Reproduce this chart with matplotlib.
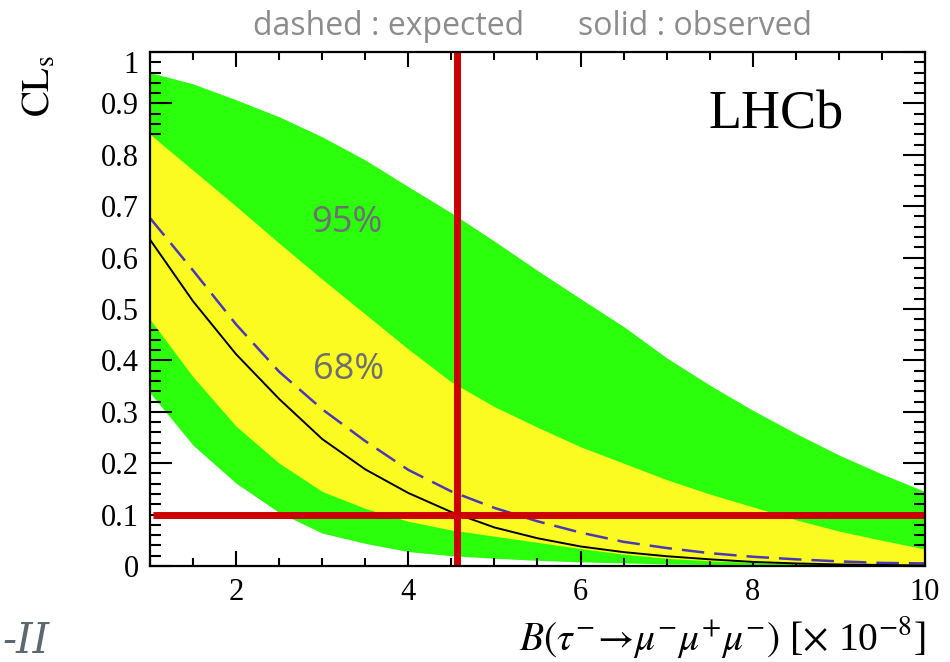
import numpy as np
import matplotlib
matplotlib.use("Agg")
import matplotlib.pyplot as plt
from matplotlib.ticker import MultipleLocator, FuncFormatter
from matplotlib.transforms import ScaledTranslation

plt.rcParams["font.family"] = ["Liberation Serif", "DejaVu Serif"]
plt.rcParams["mathtext.fontset"] = "stix"

# CLs scan (x in units of 1e-8)
bf = [1.0, 1.5, 2.0, 2.5, 3.0, 3.5, 4.0, 4.5, 5.0, 5.5,
      6.0, 6.5, 7.0, 7.5, 8.0, 8.5, 9.0, 9.5, 10.0]
green_hi = [0.960, 0.938, 0.907, 0.874, 0.835, 0.790, 0.738, 0.687, 0.632, 0.575,
            0.520, 0.466, 0.405, 0.352, 0.303, 0.258, 0.216, 0.179, 0.145]
yellow_hi = [0.840, 0.770, 0.700, 0.628, 0.558, 0.490, 0.422, 0.358, 0.310, 0.270,
             0.232, 0.200, 0.168, 0.140, 0.115, 0.090, 0.068, 0.050, 0.033]
yellow_lo = [0.480, 0.368, 0.272, 0.200, 0.145, 0.112, 0.087, 0.070, 0.058, 0.046,
             0.034, 0.023, 0.015, 0.010, 0.007, 0.005, 0.004, 0.003, 0.002]
green_lo = [0.337, 0.235, 0.161, 0.104, 0.064, 0.044, 0.028, 0.020, 0.015, 0.011,
            0.008, 0.006, 0.004, 0.003, 0.002, 0.001, 0.001, 0.000, 0.000]
observed = [0.635, 0.515, 0.412, 0.325, 0.247, 0.188, 0.142, 0.105, 0.075, 0.054,
            0.038, 0.027, 0.019, 0.013, 0.008, 0.005, 0.003, 0.002, 0.001]
expected = [0.677, 0.575, 0.470, 0.378, 0.305, 0.243, 0.187, 0.145, 0.113, 0.087,
            0.065, 0.047, 0.035, 0.025, 0.018, 0.013, 0.009, 0.006, 0.005]

limit_x = 4.56   # observed limit
cl_level = 0.10

fig = plt.figure(figsize=(9.5, 6.62), dpi=100)
ax = fig.add_axes([150/950, 1-566/662, 775/950, 514/662])

ax.fill_between(bf, green_lo, green_hi, color="#2cff0c", lw=0, zorder=1)
ax.fill_between(bf, yellow_lo, yellow_hi, color="#fbfb22", lw=0, zorder=2)
ax.plot(bf, expected, color="#4a38b8", lw=1.8, dashes=(9, 4), zorder=3)
ax.plot(bf, observed, color="black", lw=1.4, zorder=4)

ax.plot([limit_x, limit_x], [0, 1], color="#cc0000", lw=5, zorder=5,
        solid_capstyle="butt")
ax.plot([1.04, 10], [cl_level, cl_level], color="#cc0000", lw=5, zorder=5,
        solid_capstyle="butt")

ax.set_xlim(1, 10)
ax.set_ylim(0, 1)
ax.set_xticks([2, 4, 6, 8, 10])
ax.xaxis.set_minor_locator(MultipleLocator(0.5))
ax.yaxis.set_major_locator(MultipleLocator(0.1))
ax.yaxis.set_minor_locator(MultipleLocator(0.02))
ax.yaxis.set_major_formatter(FuncFormatter(lambda v, p: f"{round(v, 2):g}"))
ax.tick_params(which="both", direction="in", top=True, right=True, width=1.5,
               labelsize=22)
ax.tick_params(axis="x", which="major", length=11, pad=9)
ax.tick_params(axis="x", which="minor", length=6)
ax.tick_params(axis="y", which="major", length=16, pad=8)
ax.tick_params(axis="y", which="minor", length=8)
for s in ax.spines.values():
    s.set_linewidth(1.6)
    s.set_zorder(6)

ax.text(1.0, -0.163, r"$B(\tau^{-}\!\rightarrow\!\mu^{-}\mu^{+}\mu^{-})$ [$\times$ 10$^{-8}$]",
        transform=ax.transAxes, ha="right", va="baseline", fontsize=28.5)
ax.text(-0.142, 0.934, r"$\mathrm{CL_s}$", transform=ax.transAxes, rotation=90,
        ha="center", va="center", fontsize=28)
ax.text(0.808, 0.852, "LHCb", transform=ax.transAxes, ha="center", va="baseline",
        fontsize=39)

ax.text(3.29, 0.65, "95%", ha="center", va="baseline", fontsize=26,
        color="#6e6e73", family=["Open Sans", "DejaVu Sans"], zorder=7)
ax.text(3.31, 0.364, "68%", ha="center", va="baseline", fontsize=26,
        color="#6e6e73", family=["Open Sans", "DejaVu Sans"], zorder=7)

fig.text(253/950, 1-35/662, "dashed : expected", ha="left", va="baseline",
         fontsize=23, color="#8c8c8c", family=["Open Sans", "DejaVu Sans"])
fig.text(578/950, 1-35/662, "solid : observed", ha="left", va="baseline",
         fontsize=23, color="#8c8c8c", family=["Open Sans", "DejaVu Sans"])
fig.text(2/950, 1-653/662, "-II", ha="left", va="baseline", fontsize=30,
         color="#5c6870", style="italic", family=["DejaVu Serif"])

# the top label "1" sits a little below the frame, as in the original
fig.canvas.draw()
for t in ax.yaxis.get_major_ticks():
    if abs(t.get_loc() - 1.0) < 1e-6:
        t.label1.set_transform(t.label1.get_transform()
                               + ScaledTranslation(0, -10/100, fig.dpi_scale_trans))

fig.savefig("out.png", dpi=100)
